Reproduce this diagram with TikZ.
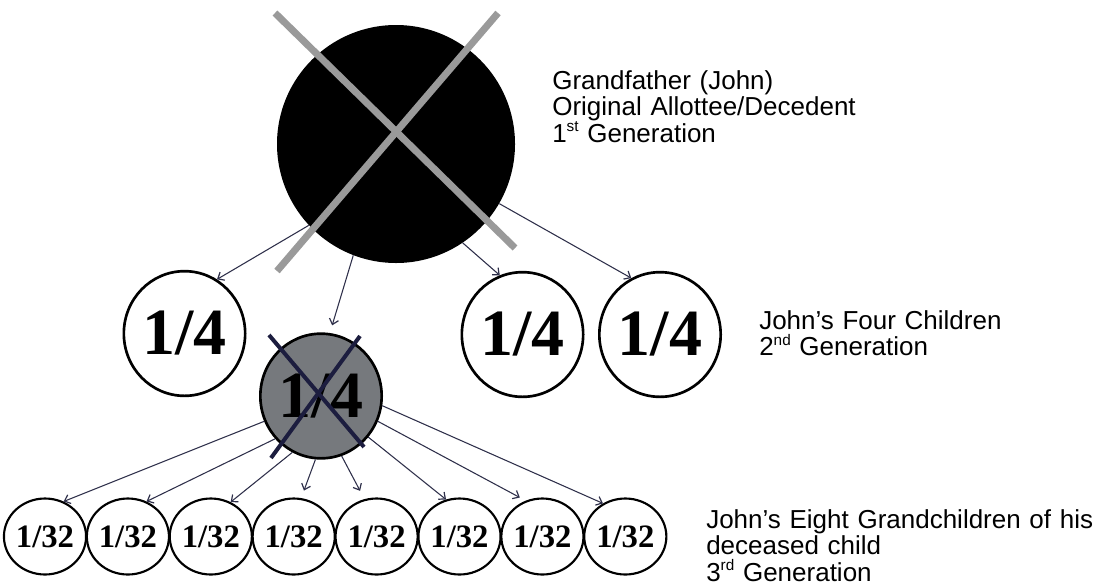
\documentclass[tikz,border=0pt]{standalone}
\usepackage{fontspec}
\setmainfont{Liberation Sans}
\newfontfamily\fracfont{Liberation Serif}
\usetikzlibrary{shapes.geometric,arrows.meta}
\definecolor{navy}{HTML}{1C1D3F}
\definecolor{arrowc}{HTML}{2E2F4A}
\definecolor{xgray}{HTML}{9A9A9A}
\definecolor{deadfill}{HTML}{76797D}
\newcommand\ordsup[1]{\raisebox{0.4em}{\fontsize{11.5}{11.5}\selectfont #1}}
\tikzset{
  heir/.style={ellipse, draw=black, line width=2pt, fill=white, minimum width=91pt, minimum height=93.5pt, inner sep=0pt, font=\fracfont\bfseries\fontsize{49.5}{50}\selectfont},
  deadheir/.style={heir, fill=deadfill},
  grand/.style={ellipse, draw=black, line width=1.6pt, fill=white, minimum width=55pt, minimum height=57pt, inner sep=0pt, font=\fracfont\bfseries\fontsize{24.5}{25}\selectfont},
  root/.style={circle, fill=black, minimum size=178.5pt, inner sep=0pt},
  inherit/.style={draw=arrowc, line width=0.8pt, -{Straight Barb[length=4pt,width=7pt,line width=0.9pt]}},
  bigcross/.style={draw=xgray, line width=5.25pt},
  smallcross/.style={draw=navy, line width=3pt},
  lab/.style={anchor=base west, inner sep=0pt, text width=380pt, align=left, font=\fontsize{19.5}{19.9}\selectfont},
}
\begin{document}
\begin{tikzpicture}[x=0.75pt,y=-0.75pt]
\useasboundingbox (0,0) rectangle (1094,586);
% nodes
\node[root] (root) at (396,144) {};
\node[heir] (c1) at (184.5,333.5) {1/4};
\node[deadheir] (dead) at (321,396) {1/4};
\node[heir] (c3) at (522.5,334.5) {1/4};
\node[heir] (c4) at (660,334.5) {1/4};
\foreach \i in {1,...,8}{
  \node[grand] (gc\i) at ({45+82.9*(\i-1)},536.5) {1/32};
}
% arrows from grandfather
\draw[inherit] (root.223) -- (c1.59);
\draw[inherit, shorten >=6pt] (root.249) -- (dead.82);
\draw[inherit] (root.304) -- (c3.111);
\draw[inherit] (root.330) -- (c4.117);
% arrows from deceased child
\draw[inherit] (dead.204) -- (gc1.62);
\draw[inherit] (dead.223) -- (gc2.62);
\draw[inherit] (dead.243) -- (gc3.60);
\draw[inherit, shorten >=6pt] (dead.265) -- (gc4.79);
\draw[inherit, shorten >=7pt] (dead.289) -- (gc5.108);
\draw[inherit] (dead.319) -- (gc6.110);
\draw[inherit, shorten >=5pt] (dead.336) -- (gc7.115);
\draw[inherit] (dead.351) -- (gc8.124);
% crosses
\draw[bigcross] (275,13) -- (515,248);
\draw[bigcross] (498,13) -- (277,271);
\draw[smallcross] (269,335) -- (364,447);
\draw[smallcross] (360,336) -- (271,458);
% labels
\node[lab] (gen1) at (552,89) {Grandfather (John)\\Original Allottee/Decedent\\1\ordsup{st} Generation};
\node[lab] (gen2) at (759,329) {John’s Four Children\\2\ordsup{nd} Generation};
\node[lab] (gen3) at (706,528) {John’s Eight Grandchildren of his\\deceased child\\3\ordsup{rd} Generation};
\end{tikzpicture}
\end{document}
